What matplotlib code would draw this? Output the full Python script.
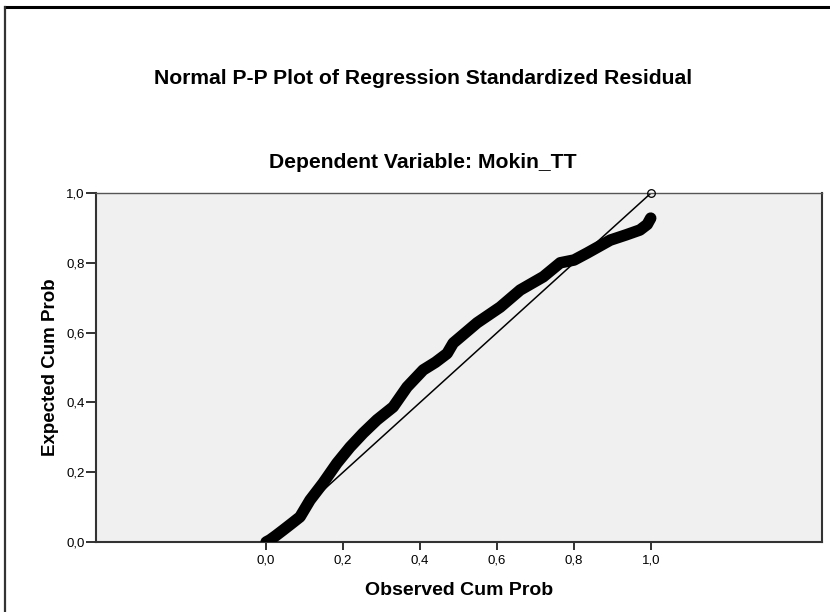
import matplotlib.pyplot as plt
from matplotlib.lines import Line2D
from matplotlib.ticker import FuncFormatter

plt.rcParams['font.family'] = ['Liberation Sans', 'DejaVu Sans']

# Observed vs expected cumulative probabilities
observed = [0.0, 0.01, 0.025, 0.044, 0.065, 0.088, 0.114, 0.148, 0.184, 0.218,
            0.252, 0.288, 0.33, 0.366, 0.408, 0.44, 0.47, 0.486, 0.548, 0.608,
            0.66, 0.72, 0.764, 0.80, 0.834, 0.894, 0.935, 0.971, 0.99, 0.999]
expected = [0.0, 0.006, 0.018, 0.034, 0.052, 0.072, 0.12, 0.169, 0.226, 0.272,
            0.312, 0.35, 0.387, 0.444, 0.493, 0.515, 0.54, 0.57, 0.628, 0.673,
            0.722, 0.76, 0.80, 0.808, 0.828, 0.865, 0.88, 0.894, 0.91, 0.928]
# lone point at the top end of the diagonal
top_obs = [1.0]
top_exp = [1.0]
ticks = [0.0, 0.2, 0.4, 0.6, 0.8, 1.0]

fig = plt.figure(figsize=(8.3, 6.12), dpi=100)
ax = fig.add_axes([96 / 830, 1 - 542 / 612, 726 / 830, 349 / 612])
ax.set_facecolor('#f0f0f0')

# reference diagonal
ax.plot([0, 1], [0, 1], color='black', lw=1.1, zorder=2)

# dense residual band
ax.plot(observed, expected, color='black', lw=8.3, solid_capstyle='round',
        solid_joinstyle='round', zorder=3)
ax.plot(observed[-2:], expected[-2:], 'o', mfc='none', mec='black', ms=5.5, mew=0.8, zorder=4)
ax.plot(top_obs, top_exp, 'o', mfc='none', mec='black', ms=5.5, mew=0.9, zorder=4, clip_on=False)

ax.set_xlim(-0.442, 1.444)
ax.set_ylim(0, 1)
ax.set_xticks(ticks)
ax.set_yticks(ticks)
fmt = FuncFormatter(lambda v, p: f'{v:.1f}'.replace('.', ','))
ax.xaxis.set_major_formatter(fmt)
ax.yaxis.set_major_formatter(fmt)
ax.tick_params(direction='out', width=1.3, color='#222222', labelsize=9.5)
ax.tick_params(axis='x', length=6, pad=3)
ax.tick_params(axis='y', length=7, pad=1)

for side in ['left', 'bottom', 'right']:
    ax.spines[side].set_color('#333333')
    ax.spines[side].set_linewidth(1.5)
ax.spines['top'].set_color('#555555')
ax.spines['top'].set_linewidth(1.0)

ax.set_xlabel('Observed Cum Prob', fontsize=14, fontweight='bold', labelpad=11)
ax.set_ylabel('Expected Cum Prob', fontsize=13.5, fontweight='bold', labelpad=5)

fig.text(423 / 830, 1 - 78 / 612, 'Normal P-P Plot of Regression Standardized Residual',
         ha='center', va='center', fontsize=15.2, fontweight='bold')
fig.text(423 / 830, 1 - 163 / 612, 'Dependent Variable: Mokin_TT',
         ha='center', va='center', fontsize=15.2, fontweight='bold')

# outer frame (top and left edges visible)
fig.add_artist(Line2D([4.5 / 830, 1], [1 - 7 / 612, 1 - 7 / 612], color='black', lw=2.2))
fig.add_artist(Line2D([4.5 / 830, 4.5 / 830], [0, 1 - 7 / 612], color='#333333', lw=1.6))

fig.savefig('out.png', dpi=100)
